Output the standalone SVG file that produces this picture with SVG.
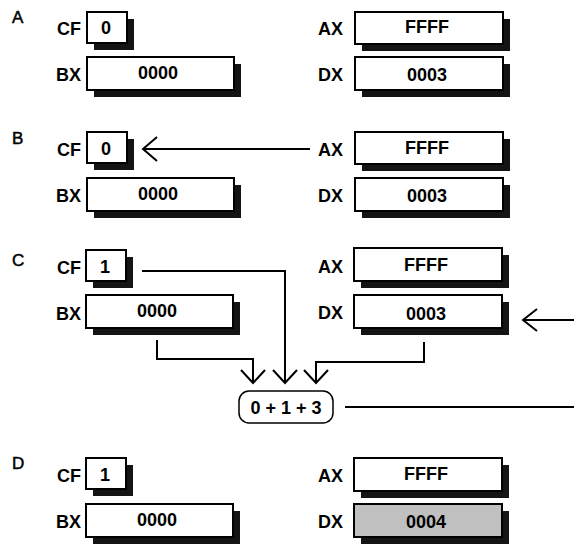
<svg xmlns="http://www.w3.org/2000/svg" width="574" height="544" viewBox="0 0 574 544">
<style>
.sec{font-family:"Liberation Sans",Arial,sans-serif;font-size:17px;fill:#000;stroke:#000;stroke-width:0.5}
.lbl{font-family:"Liberation Sans",Arial,sans-serif;font-size:18px;font-weight:bold;fill:#000;text-anchor:end}
.val{font-family:"Liberation Sans",Arial,sans-serif;font-size:18px;font-weight:bold;fill:#000;text-anchor:middle}
.box{fill:#fff;stroke:#000;stroke-width:2}
.gray{fill:#c0c0c0;stroke:#000;stroke-width:2}
.sh{fill:#141414}
.ln{fill:none;stroke:#000;stroke-width:2}
.pill{fill:#fff;stroke:#000;stroke-width:1.5}
</style>
<rect width="574" height="544" fill="#fff"/>

<!-- Section A -->
<g id="secA">
<text class="sec" x="12" y="23">A</text>
<g id="A-CF"><text class="lbl" x="81" y="35">CF</text><rect class="sh" x="94" y="19" width="40" height="31"/><rect class="box" x="87" y="12" width="40" height="31"/><text class="val" x="106" y="34">0</text></g>
<g id="A-BX"><text class="lbl" x="81" y="81">BX</text><rect class="sh" x="94" y="64" width="147" height="33"/><rect class="box" x="87" y="57" width="147" height="33"/><text class="val" x="158" y="79">0000</text></g>
<g id="A-AX"><text class="lbl" x="343" y="35">AX</text><rect class="sh" x="362" y="19" width="148" height="32"/><rect class="box" x="355" y="12" width="148" height="32"/><text class="val" x="427" y="33">FFFF</text></g>
<g id="A-DX"><text class="lbl" x="343" y="81">DX</text><rect class="sh" x="362" y="64" width="148" height="33"/><rect class="box" x="355" y="57" width="148" height="33"/><text class="val" x="427" y="81">0003</text></g>
</g>

<!-- Section B -->
<g id="secB">
<text class="sec" x="12" y="144">B</text>
<g id="B-CF"><text class="lbl" x="81" y="156">CF</text><rect class="sh" x="94" y="139" width="40" height="31"/><rect class="box" x="87" y="132" width="40" height="31"/><text class="val" x="106" y="155">0</text></g>
<g id="B-BX"><text class="lbl" x="81" y="202">BX</text><rect class="sh" x="94" y="185" width="147" height="33"/><rect class="box" x="87" y="178" width="147" height="33"/><text class="val" x="158" y="200">0000</text></g>
<g id="B-AX"><text class="lbl" x="343" y="156">AX</text><rect class="sh" x="362" y="139" width="148" height="32"/><rect class="box" x="355" y="132" width="148" height="32"/><text class="val" x="427" y="154">FFFF</text></g>
<g id="B-DX"><text class="lbl" x="343" y="202">DX</text><rect class="sh" x="362" y="185" width="148" height="33"/><rect class="box" x="355" y="178" width="148" height="33"/><text class="val" x="427" y="202">0003</text></g>
</g>

<!-- Section C -->
<g id="secC">
<text class="sec" x="12" y="266">C</text>
<g id="C-CF"><text class="lbl" x="81" y="274">CF</text><rect class="sh" x="93" y="257" width="40" height="31"/><rect class="box" x="86" y="250" width="40" height="31"/><text class="val" x="105" y="273">1</text></g>
<g id="C-BX"><text class="lbl" x="81" y="320">BX</text><rect class="sh" x="93" y="302" width="147" height="33"/><rect class="box" x="86" y="295" width="147" height="33"/><text class="val" x="157" y="317">0000</text></g>
<g id="C-AX"><text class="lbl" x="343" y="273">AX</text><rect class="sh" x="361" y="255" width="148" height="33"/><rect class="box" x="354" y="248" width="148" height="33"/><text class="val" x="426" y="271">FFFF</text></g>
<g id="C-DX"><text class="lbl" x="343" y="319">DX</text><rect class="sh" x="361" y="302" width="148" height="33"/><rect class="box" x="354" y="295" width="148" height="33"/><text class="val" x="426" y="320">0003</text></g>
<g id="C-sum"><rect class="pill" x="239" y="391" width="94" height="32" rx="10"/><text class="val" x="286" y="414">0 + 1 + 3</text></g>
</g>

<!-- Section D -->
<g id="secD">
<text class="sec" x="12" y="469">D</text>
<g id="D-CF"><text class="lbl" x="81" y="482">CF</text><rect class="sh" x="93" y="465" width="40" height="31"/><rect class="box" x="86" y="458" width="40" height="31"/><text class="val" x="105" y="481">1</text></g>
<g id="D-BX"><text class="lbl" x="81" y="528">BX</text><rect class="sh" x="93" y="511" width="147" height="33"/><rect class="box" x="86" y="504" width="147" height="33"/><text class="val" x="157" y="526">0000</text></g>
<g id="D-AX"><text class="lbl" x="343" y="482">AX</text><rect class="sh" x="361" y="465" width="148" height="33"/><rect class="box" x="354" y="458" width="148" height="33"/><text class="val" x="426" y="480">FFFF</text></g>
<g id="D-DX"><text class="lbl" x="343" y="528">DX</text><rect class="sh" x="361" y="511" width="148" height="33"/><rect class="gray" x="354" y="504" width="148" height="33"/><text class="val" x="426" y="528">0004</text></g>
</g>

<!-- Connectors -->
<g id="connectors">
<path class="ln" d="M143 149 H310"/>
<path class="ln" d="M157 137 L143 149 L157 161"/>
<path class="ln" d="M142 271 H285 V383"/>
<path class="ln" d="M273 370 L285 383 L297 370"/>
<path class="ln" d="M157 340 V359 H253 V383"/>
<path class="ln" d="M241 370 L253 383 L265 370"/>
<path class="ln" d="M424 342 V362 H316 V383"/>
<path class="ln" d="M304 370 L316 383 L328 370"/>
<path class="ln" d="M345 407 H574"/>
<path class="ln" d="M523 320 H574"/>
<path class="ln" d="M537 309 L523 320 L537 331"/>
</g>
</svg>
